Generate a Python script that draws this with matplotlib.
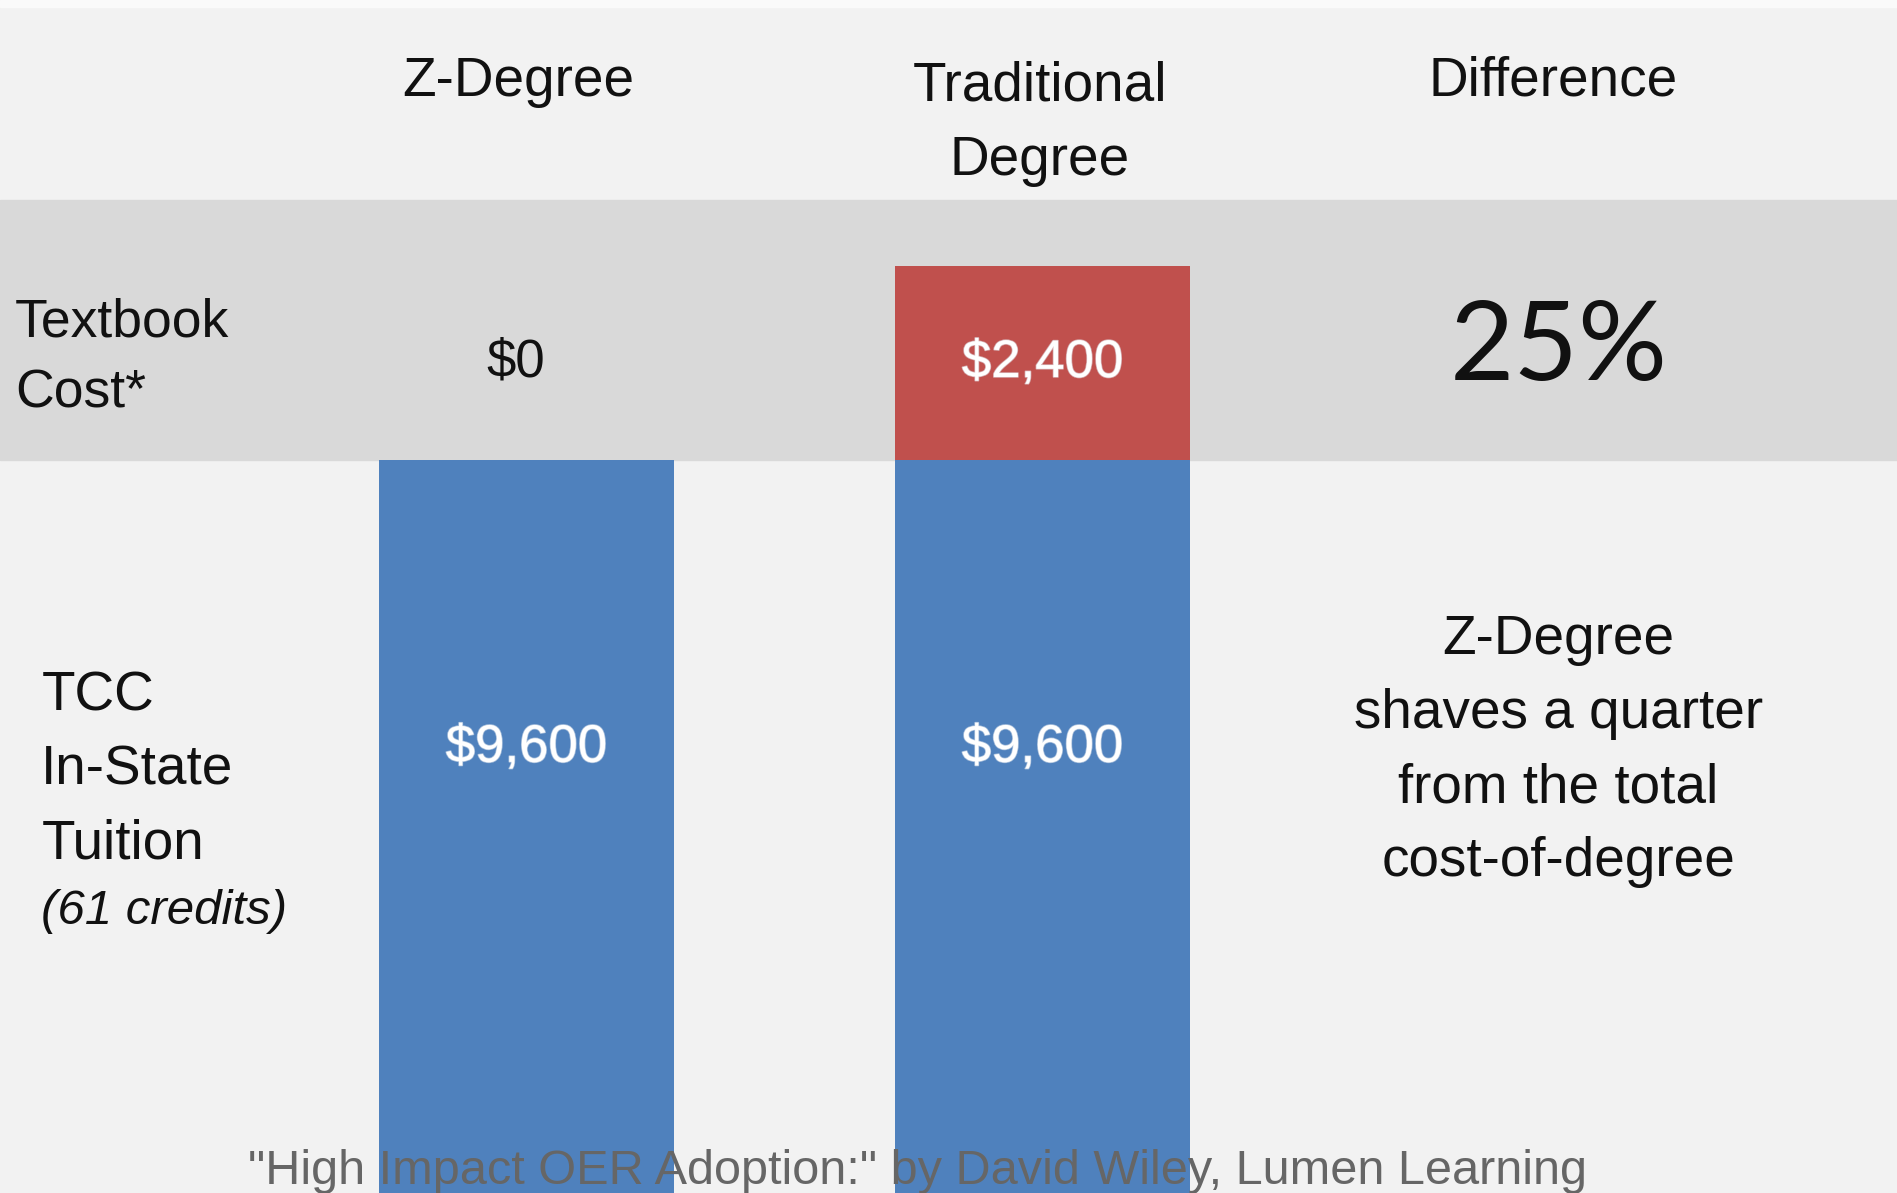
import matplotlib.pyplot as plt
import matplotlib.patheffects as pe

# data
degrees = ["Z-Degree", "Traditional\nDegree"]
tuition = [9600, 9600]
textbook = [0, 2400]
tuition_labels = ["$9,600", "$9,600"]
textbook_labels = ["$0", "$2,400"]
difference = "25%"
diff_note = "Z-Degree\nshaves a quarter\nfrom the total\ncost-of-degree"

blue = "#4f81bd"
red = "#c0504d"
bg = "#f2f2f2"
band = "#d9d9d9"

plt.rcParams['font.family'] = ['Liberation Sans', 'DejaVu Sans']

fig = plt.figure(figsize=(18.97, 11.93), dpi=100)
fig.patch.set_facecolor(bg)
ax = fig.add_axes([0, 0, 1, 1])
ax.set_facecolor(bg)
ax.set_xlim(-1.02, 2.656)
ax.set_ylim(533, 15290)
ax.axis("off")

# grey band behind the textbook row
ax.axhspan(9600, 12816, color=band, zorder=0)
ax.axhspan(15200, 15290, color="#fafafa", zorder=0)

x = [0, 1]
ax.bar(x, tuition, width=0.572, color=blue, zorder=2)
ax.bar(x, textbook, bottom=tuition, width=0.572, color=red, zorder=2)

halo = [pe.withStroke(linewidth=1.2, foreground="#e4e9f0", alpha=0.6)]
for i in range(len(x)):
    ax.text(x[i], 6040, tuition_labels[i], ha="center", va="center",
            fontsize=38, color="white", zorder=3, path_effects=halo)
    if textbook[i] > 0:
        ax.text(x[i], tuition[i] + textbook[i] / 2, textbook_labels[i], ha="center", va="center",
                fontsize=38, color="white", zorder=3, path_effects=halo)
    else:
        ax.text(x[i] - 0.02, tuition[i] + 1200, textbook_labels[i], ha="center", va="center",
                fontsize=38, color="#111111", zorder=3)

# column headers
ax.text(-0.015, 14280, degrees[0], ha="center", va="center", fontsize=39.5, color="#111111")
ax.text(0.995, 13760, degrees[1], ha="center", va="center", fontsize=39.5, color="#111111",
        linespacing=1.55)
ax.text(1.99, 14280, "Difference", ha="center", va="center", fontsize=39.5, color="#111111")

# row labels
ax.text(-0.991, 10860, "Textbook\nCost*", ha="left", va="center", fontsize=38.5,
        color="#111111", linespacing=1.55)
ax.text(-0.94, 5760, "TCC\nIn-State\nTuition", ha="left", va="center", fontsize=39.5,
        color="#111111", linespacing=1.55)
ax.text(-0.94, 4020, "(61 credits)", ha="left", va="center", fontsize=35.5,
        color="#111111", style="italic")

# difference column
ax.text(2.0, 10967, difference, ha="center", va="center", fontsize=80,
        color="#111111", family=["Lato", "DejaVu Sans"])
ax.text(2.0, 6000, diff_note, ha="center", va="center", fontsize=39.5,
        color="#111111", linespacing=1.55)

fig.text(917 / 1897, 1 - 1171 / 1193,
         '"High Impact OER Adoption:" by David Wiley, Lumen Learning',
         ha="center", va="center", fontsize=35, color="#666666")

fig.savefig("out.png", dpi=100, facecolor=bg)
